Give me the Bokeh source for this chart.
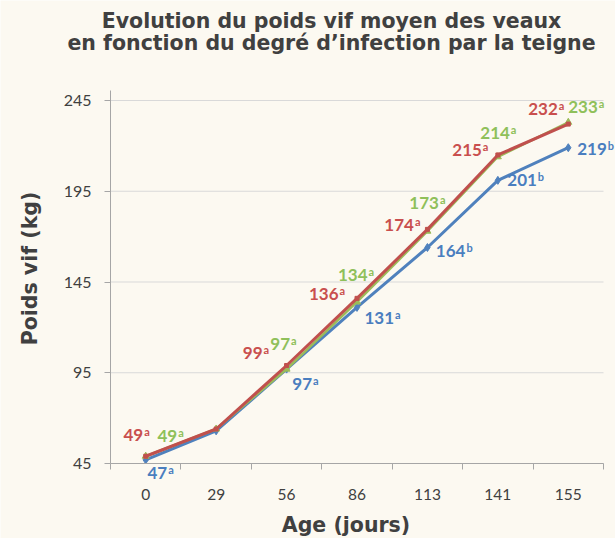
import math
from bokeh.plotting import figure
from bokeh.models import ColumnDataSource, LabelSet, Label, FixedTicker, Range1d
from bokeh.core.properties import value
from bokeh.embed import file_html
from bokeh.resources import INLINE

# ---------------- data ----------------
ages = ["0", "29", "56", "86", "113", "141", "155"]
red_vals = [49, 64, 99, 136, 174, 215, 232]
green_vals = [49, 64, 97, 134, 173, 214, 233]
blue_vals = [47, 63, 97, 131, 164, 201, 219]
red_sig = ["a", "", "a", "a", "a", "a", "a"]
green_sig = ["a", "", "a", "a", "a", "a", "a"]
blue_sig = ["a", "", "a", "a", "b", "b", "b"]
y_ticks = [45, 95, 145, 195, 245]
title_lines = ["Evolution du poids vif moyen des veaux",
               "en fonction du degré d\u2019infection par la teigne"]
x_title = "Age (jours)"
y_title = "Poids vif (kg)"

# ---------------- styles / layout ----------------
RED, GREEN, BLUE = "#c0504d", "#9bbb59", "#4f81bd"
RED_T, GREEN_T, BLUE_T = "#c94f4e", "#8fc05a", "#4a7ebf"
BG = "#fcf9f1"
AXC = "#a6a6a6"
TCOL = "#404040"
# label offsets in px (dx right, dy down = digit centre relative to point)
red_dx = [-2.5, 0, -24, -18.5, -13.5, -16, -10.5]
red_dy = [-21, 0, -12, -4, -4, -5.4, -14.6]
green_dx = [31.5, 0, 3.5, 10.5, 11.5, 12, 29.5]
green_dy = [-20.7, 0, -25.3, -26.5, -27.7, -23.3, -14.8]
blue_dx = [21.5, 0, 25.5, 37, 38, 39, 38.5]
blue_dy = [13.6, 0, 14.4, 11, 3, 0, 1]

W, H = 615, 538
n = len(ages)
# plot box in pixels: left edge, right edge, y of lowest / highest tick
PX_L, PX_R, PY_LO, PY_HI = 110, 603, 463, 100
kx = (PX_R - PX_L) / n
ky = (PY_LO - PY_HI) / (y_ticks[-1] - y_ticks[0])
x0 = -0.5 - PX_L / kx
x1 = -0.5 + (W - PX_L) / kx
y1 = y_ticks[0] + PY_LO / ky
y0 = y_ticks[0] - (H - PY_LO) / ky

p = figure(width=W, height=H, x_range=Range1d(x0, x1), y_range=Range1d(y0, y1),
           output_backend="svg", toolbar_location=None, min_border=0)
p.border_fill_color = BG
p.background_fill_color = BG
p.outline_line_color = None
p.grid.visible = False

xs = list(range(n))
# axes (drawn at fixed data locations inside the full-canvas frame)
p.xaxis.fixed_location = y_ticks[0]
p.xaxis.bounds = (-0.5, n - 0.5)
p.xaxis.ticker = FixedTicker(ticks=xs, minor_ticks=[i - 0.5 for i in range(n + 1)])
p.xaxis.major_label_overrides = {i: a for i, a in enumerate(ages)}
p.xaxis.major_tick_out = 0
p.xaxis.major_tick_in = 0
p.xaxis.minor_tick_out = 6
p.xaxis.minor_tick_in = 0
p.xaxis.minor_tick_line_color = AXC
p.xaxis.major_label_standoff = 19
p.xaxis.major_label_text_font_size = "15.5px"

p.yaxis.fixed_location = -0.5
p.yaxis.bounds = (y_ticks[0], y_ticks[-1] + 10 / ky)
p.yaxis.ticker = FixedTicker(ticks=y_ticks)
p.yaxis.major_tick_out = 6
p.yaxis.major_tick_in = 0
p.yaxis.minor_tick_line_color = None
p.yaxis.major_label_standoff = 13
p.yaxis.major_label_text_font_size = "16px"

for ax in (p.xaxis, p.yaxis):
    ax.axis_line_color = AXC
    ax.major_tick_line_color = AXC
    ax.major_label_text_font = "Lato"
    ax.major_label_text_color = TCOL

# horizontal grid lines at the y ticks, across the category span
p.segment(x0=[-0.5] * len(y_ticks), x1=[n - 0.5] * len(y_ticks), y0=y_ticks, y1=y_ticks,
          line_color="#d9d9d9", line_width=1)

# series
p.line(xs, blue_vals, color=BLUE, line_width=3)
p.scatter(xs, blue_vals, marker="diamond", size=8, color=BLUE)
p.line(xs, green_vals, color=GREEN, line_width=2.5)
p.scatter(xs, green_vals, marker="triangle", size=7, color=GREEN)
p.line(xs, red_vals, color=RED, line_width=3)
p.scatter(xs, red_vals, marker="square", size=4, color=RED)


def add_labels(vals, sig, dx, dy, col):
    nums = [str(v) if s else "" for v, s in zip(vals, sig)]
    src = ColumnDataSource(dict(
        x=xs, y=vals, num=nums, sup=sig, dx=dx,
        yo=[-(d + 6) for d in dy], yo2=[-(d + 6) + 5 for d in dy], dx2=[d + 1 for d in dx]))
    p.add_layout(LabelSet(x="x", y="y", text="num", source=src, x_offset="dx", y_offset="yo",
                          text_align="right", text_baseline="alphabetic",
                          text_font=value("Lato"), text_font_style="bold",
                          text_font_size="17px", text_color=col))
    p.add_layout(LabelSet(x="x", y="y", text="sup", source=src, x_offset="dx2", y_offset="yo2",
                          text_align="left", text_baseline="alphabetic",
                          text_font=value("Lato"), text_font_style="bold",
                          text_font_size="11px", text_color=col))


add_labels(red_vals, red_sig, red_dx, red_dy, RED_T)
add_labels(green_vals, green_sig, green_dx, green_dy, GREEN_T)
add_labels(blue_vals, blue_sig, blue_dx, blue_dy, BLUE_T)

SHIFT = 8  # Label text box sits lower than its nominal baseline


def canvas_text(x, y, txt, angle=0.0):
    p.add_layout(Label(x=x, y=y, x_units="canvas", y_units="canvas", text=txt, angle=angle,
                       text_align="center", text_baseline="alphabetic", text_font="DejaVu Sans",
                       text_font_style="bold", text_font_size="20.5px", text_color=TCOL))


canvas_text(331, 28 - SHIFT, title_lines[0])
canvas_text(331, 50 - SHIFT, title_lines[1])
canvas_text(345.5, 532 - SHIFT, x_title)
canvas_text(37.5 - SHIFT, 268, y_title, angle=math.pi / 2)

open("out.html", "w").write(file_html(p, INLINE))
